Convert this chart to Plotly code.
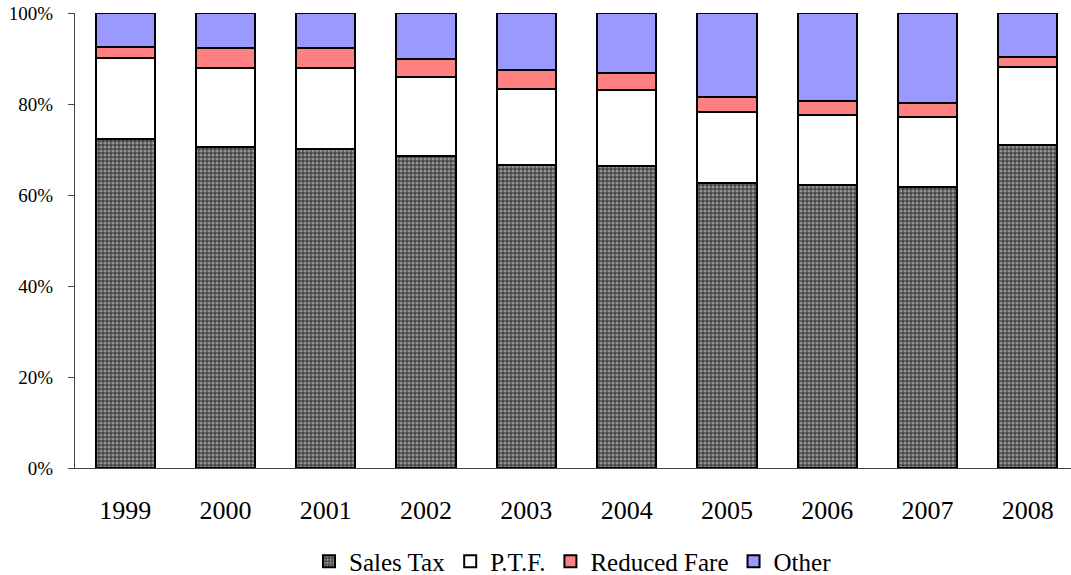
import plotly.graph_objects as go

years = ["1999", "2000", "2001", "2002", "2003", "2004", "2005", "2006", "2007", "2008"]
sales_tax = [72.2, 70.5, 70.2, 68.5, 66.6, 66.3, 62.6, 62.1, 61.7, 71.1]
ptf = [18.0, 17.4, 17.7, 17.5, 16.8, 16.7, 15.7, 15.4, 15.5, 17.1]
reduced_fare = [2.3, 4.3, 4.4, 3.9, 4.1, 3.9, 3.3, 3.2, 3.0, 2.2]
other = [7.5, 7.8, 7.7, 10.1, 12.5, 13.1, 18.4, 19.3, 19.8, 9.6]
y_ticks = [0, 20, 40, 60, 80, 100]
y_tick_labels = ["0%", "20%", "40%", "60%", "80%", "100%"]

font_family = "Liberation Serif"
outline = dict(color="black", width=2)

fig = go.Figure()
fig.add_trace(go.Bar(
    name="Sales Tax", x=years, y=sales_tax,
    marker=dict(color="#444444", line=outline,
                pattern=dict(shape=".", fgcolor="#e0e0e0", bgcolor="#444444",
                             size=4, solidity=0.5)),
))
fig.add_trace(go.Bar(name="P.T.F.", x=years, y=ptf,
                     marker=dict(color="#ffffff", line=outline)))
fig.add_trace(go.Bar(name="Reduced Fare", x=years, y=reduced_fare,
                     marker=dict(color="#ff8080", line=outline)))
fig.add_trace(go.Bar(name="Other", x=years, y=other,
                     marker=dict(color="#9999ff", line=outline)))

fig.update_layout(
    barmode="stack",
    bargap=0.41,
    width=1071, height=575,
    margin=dict(l=75, r=0, t=13, b=107, autoexpand=False),
    paper_bgcolor="white", plot_bgcolor="white",
    font=dict(family=font_family, size=20, color="black"),
    showlegend=True,
    legend=dict(orientation="h", x=0.5, xanchor="center",
                yref="paper", y=-0.155, yanchor="top",
                traceorder="normal", font=dict(family=font_family, size=25),
                itemwidth=30, bgcolor="rgba(0,0,0,0)"),
    xaxis=dict(range=[-0.5, 9.43], showline=True, linecolor="#444", linewidth=1,
               ticks="", showgrid=False,
               tickfont=dict(family=font_family, size=26),
               ticklabelstandoff=19, fixedrange=True),
    yaxis=dict(range=[0, 100], tickmode="array", tickvals=y_ticks,
               ticktext=y_tick_labels,
               showline=True, linecolor="#444", linewidth=1,
               ticks="outside", ticklen=6, tickcolor="#444",
               showgrid=False, zeroline=False,
               tickfont=dict(family=font_family, size=19),
               ticklabelstandoff=11, fixedrange=True),
)

fig.write_html("out.html")
